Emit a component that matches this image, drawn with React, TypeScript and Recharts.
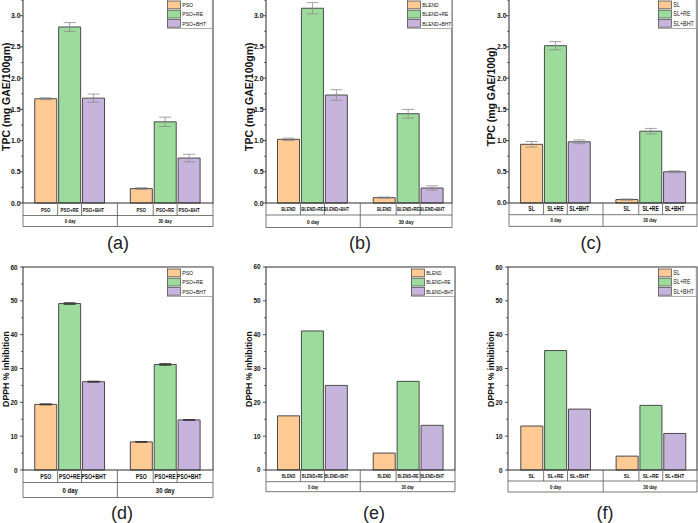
import React from "react";
import { BarChart, Bar, Cell, XAxis, YAxis, ErrorBar, Legend } from "recharts";

// ---- data ----
const DAYS = ["0 day", "30 day"];
const COLORS = ["#FFCA94", "#9DDB9D", "#C7B4DC"];

const psoTreat = ["PSO", "PSO+RE", "PSO+BHT"];
const blendTreat = ["BLEND", "BLEND+RE", "BLEND+BHT"];
const slTreat = ["SL", "SL+RE", "SL+BHT"];

// TPC (mg GAE/100g)
const tpcPso0 = [1.67, 2.82, 1.68];
const tpcPso30 = [0.23, 1.3, 0.72];
const tpcPsoErr0 = [0.015, 0.07, 0.065];
const tpcPsoErr30 = [0.015, 0.075, 0.06];

const tpcBlend0 = [1.02, 3.12, 1.73];
const tpcBlend30 = [0.085, 1.43, 0.24];
const tpcBlendErr0 = [0.02, 0.09, 0.085];
const tpcBlendErr30 = [0.01, 0.07, 0.035];

const tpcSl0 = [0.94, 2.52, 0.98];
const tpcSl30 = [0.055, 1.15, 0.5];
const tpcSlErr0 = [0.045, 0.065, 0.03];
const tpcSlErr30 = [0.01, 0.045, 0.015];

// DPPH % inhibition
const dpphPso0 = [19.4, 49.2, 26.1];
const dpphPso30 = [8.3, 31.2, 14.8];
const dpphPsoErr0 = [0.15, 0.25, 0.15];
const dpphPsoErr30 = [0.1, 0.25, 0.1];

const dpphBlend0 = [16.0, 41.1, 25.0];
const dpphBlend30 = [5.0, 26.2, 13.2];

const dpphSl0 = [13.0, 35.3, 18.0];
const dpphSl30 = [4.1, 19.1, 10.8];

const tpcMajor = [0, 0.5, 1, 1.5, 2, 2.5, 3];
const tpcMinor = [0.25, 0.75, 1.25, 1.75, 2.25, 2.75, 3.25];
const dpphMajor = [0, 10, 20, 30, 40, 50, 60];
const dpphMinor = [5, 15, 25, 35, 45, 55];

// ---- helpers ----
type Row = { id: string; treat: number; value: number | null; err: number | null };

function buildRows(treat: string[], v0: number[], v30: number[], e0?: number[], e30?: number[]): Row[] {
  const rows: Row[] = [];
  treat.forEach((t, i) => rows.push({ id: `0|${t}`, treat: i, value: v0[i], err: e0 ? e0[i] : null }));
  rows.push({ id: "gap", treat: -1, value: null, err: null });
  treat.forEach((t, i) => rows.push({ id: `30|${t}`, treat: i, value: v30[i], err: e30 ? e30[i] : null }));
  return rows;
}

const Y_W = 23;
const M_TOP = 6;
const INK = "#2b2b2b";
const LINE = "#555";
const SANS = "'Liberation Sans', Arial, sans-serif";

// condensed text (no narrow font installed, so squeeze horizontally)
function Narrow({ x, y, size, anchor = "middle", bold = true, sx = 0.8, children }: any) {
  return (
    <text transform={`translate(${x} ${y}) scale(${sx} 1)`} x={0} y={0} textAnchor={anchor}
      dominantBaseline="central" fontFamily={SANS} fontWeight={bold ? "bold" : "normal"} fontSize={size} fill="#111">
      {children}
    </text>
  );
}

const top = { plotTop: -2.7, plotBottom: 203.3, yMax: 3.3, major: tpcMajor, minor: tpcMinor,
  fmt: (v: number) => v.toFixed(1), tickGap: 2.5, tickFont: 6.8, labelSize: 10.5, labelY: 97,
  legendTop: -0.9, letterY: 243 };
const bottom = { plotTop: 267, plotBottom: 470, yMax: 60, major: dpphMajor, minor: dpphMinor,
  fmt: (v: number) => String(v), tickGap: 5.5, tickFont: 6.4, labelSize: 8.7, labelY: 369,
  legendTop: 266.7, letterY: 513 };

const panels = [
  { ...top, treat: psoTreat, rows: buildRows(psoTreat, tpcPso0, tpcPso30, tpcPsoErr0, tpcPsoErr30),
    yLabel: "TPC (mg GAE/100gm)", plotL: 23, plotR: 213, padL: 10.75, padR: 12, r1: 12.5, r2: 11,
    catSize: 5.6, groupSize: 5.4, legendSize: 6.2, legendW: 45.7, letter: "(a)", letterX: 118, errColor: "#8a8a8a" },
  { ...top, treat: blendTreat, rows: buildRows(blendTreat, tpcBlend0, tpcBlend30, tpcBlendErr0, tpcBlendErr30),
    yLabel: "TPC (mg GAE/100gm)", plotL: 266, plotR: 452, padL: 10.5, padR: 8, r1: 12, r2: 12.5,
    catSize: 5.2, groupSize: 6, legendSize: 6, legendW: 45.3, letter: "(b)", letterX: 360, errColor: "#8a8a8a" },
  { ...top, treat: slTreat, rows: buildRows(slTreat, tpcSl0, tpcSl30, tpcSlErr0, tpcSlErr30),
    yLabel: "TPC (mg GAE/100g)", plotL: 509, plotR: 697, padL: 10.6, padR: 10.6, r1: 11.7, r2: 11.7,
    catSize: 6.3, groupSize: 5.4, legendSize: 6.6, legendW: 38.7, letter: "(c)", letterX: 591, errColor: "#8a8a8a" },
  { ...bottom, treat: psoTreat, rows: buildRows(psoTreat, dpphPso0, dpphPso30, dpphPsoErr0, dpphPsoErr30),
    yLabel: "DPPH % inhibition", plotL: 23, plotR: 213, padL: 10.75, padR: 12, r1: 12.5, r2: 15,
    catSize: 6.5, groupSize: 7.5, legendSize: 6.2, legendW: 46, letter: "(d)", letterX: 122, errColor: "#222" },
  { ...bottom, treat: blendTreat, rows: buildRows(blendTreat, dpphBlend0, dpphBlend30),
    yLabel: "DPPH % inhibition", plotL: 266, plotR: 455, padL: 10.5, padR: 11, r1: 11.7, r2: 10,
    catSize: 4.9, groupSize: 5, legendSize: 5.6, legendW: 44, letter: "(e)", letterX: 374, errColor: "#222" },
  { ...bottom, treat: slTreat, rows: buildRows(slTreat, dpphSl0, dpphSl30),
    yLabel: "DPPH % inhibition", plotL: 508, plotR: 697, padL: 11.8, padR: 10.4, r1: 11, r2: 11,
    catSize: 6.2, groupSize: 5.6, legendSize: 6.6, legendW: 38.7, letter: "(f)", letterX: 605, errColor: "#222" },
];

type Cfg = (typeof panels)[number];

function CatTick(props: any) {
  const { x, y, index, cfg, plotW, plotH } = props as { x: number; y: number; index: number; cfg: Cfg; plotW: number; plotH: number };
  const w = (plotW - cfg.padL - cfg.padR) / 7;
  const L = x - (index + 0.5) * w - cfg.padL;
  const R = L + plotW;
  const mid = L + cfg.padL + 3.5 * w;
  const h = cfg.r1 + cfg.r2;
  const row = cfg.rows[index];
  return (
    <g>
      {index === 0 && (
        <g>
          <rect x={L} y={y - plotH} width={plotW} height={plotH} fill="none" stroke={INK} strokeWidth={1} />
          <line x1={L} x2={R} y1={y + cfg.r1} y2={y + cfg.r1} stroke={LINE} strokeWidth={0.8} />
          <line x1={L} x2={R} y1={y + h} y2={y + h} stroke={LINE} strokeWidth={0.8} />
          <line x1={L} x2={L} y1={y} y2={y + h} stroke={LINE} strokeWidth={0.8} />
          <line x1={R} x2={R} y1={y} y2={y + h} stroke={LINE} strokeWidth={0.8} />
        </g>
      )}
      {index === 3 && <line x1={mid} x2={mid} y1={y} y2={y + h} stroke={LINE} strokeWidth={0.8} />}
      {[0, 1, 4, 5].includes(index) && (
        <line x1={x + w / 2} x2={x + w / 2} y1={y} y2={y + cfg.r1} stroke={LINE} strokeWidth={0.8} />
      )}
      {row && row.treat >= 0 && (
        <Narrow x={x} y={y + cfg.r1 / 2 + 0.3} size={cfg.catSize}>
          {cfg.treat[row.treat]}
        </Narrow>
      )}
      {(index === 1 || index === 5) && (
        <Narrow x={index === 1 ? (L + mid) / 2 : (mid + R) / 2} y={y + cfg.r1 + cfg.r2 / 2 + 0.3} size={cfg.groupSize}>
          {DAYS[index === 1 ? 0 : 1]}
        </Narrow>
      )}
    </g>
  );
}

function ValTick(props: any) {
  const { x, y, payload, cfg } = props as { x: number; y: number; payload: { value: number }; cfg: Cfg };
  const major = cfg.major.includes(payload.value);
  return (
    <g>
      <line x1={x} x2={x - (major ? 3 : 1.8)} y1={y} y2={y} stroke={INK} strokeWidth={0.8} />
      {major && (
        <text x={x - cfg.tickGap} y={y} textAnchor="end" dominantBaseline="central"
          fontFamily={SANS} fontWeight="bold" fontSize={cfg.tickFont} fill="#111">
          {cfg.fmt(payload.value)}
        </text>
      )}
    </g>
  );
}

function LegendBox({ cfg }: { cfg: Cfg }) {
  return (
    <svg width={cfg.legendW} height={30} style={{ display: "block" }}>
      <rect x={0.5} y={0.5} width={cfg.legendW - 1} height={29} fill="#fff" stroke="#9a9a9a" strokeWidth={0.8} />
      {cfg.treat.map((t, k) => (
        <g key={t}>
          <rect x={0.5} y={2 + 9.2 * k} width={13} height={7.8} fill={COLORS[k]} stroke="#555" strokeWidth={0.8} />
          <Narrow x={15.3} y={2 + 9.2 * k + 4.1} size={cfg.legendSize} anchor="start" bold={false} sx={0.82}>
            {t}
          </Narrow>
        </g>
      ))}
    </svg>
  );
}

function Panel({ cfg }: { cfg: Cfg }) {
  const plotW = cfg.plotR - cfg.plotL;
  const plotH = cfg.plotBottom - cfg.plotTop;
  const xh = cfg.r1 + cfg.r2 + 3;
  const wrapLeft = cfg.plotL - Y_W;
  const wrapTop = cfg.plotTop - M_TOP;
  const width = Y_W + plotW + 2;
  const height = M_TOP + plotH + xh;
  const lx = Y_W - 17;
  const ly = cfg.labelY - wrapTop;
  const hasErr = cfg.rows.some((r) => r.err != null);
  return (
    <div style={{ position: "absolute", left: wrapLeft, top: wrapTop }}>
      <BarChart width={width} height={height} data={cfg.rows} margin={{ top: M_TOP, right: 2, bottom: 0, left: 0 }}>
        <XAxis dataKey="id" type="category" interval={0} height={xh} axisLine={false} tickLine={false}
          tickSize={0} tickMargin={0} padding={{ left: cfg.padL, right: cfg.padR }}
          tick={(p: any) => <CatTick {...p} cfg={cfg} plotW={plotW} plotH={plotH} />} />
        <YAxis type="number" domain={[0, cfg.yMax]} ticks={[...cfg.major, ...cfg.minor].sort((a, b) => a - b)}
          interval={0} width={Y_W} axisLine={false} tickLine={false} tickSize={0} tickMargin={0}
          tick={(p: any) => <ValTick {...p} cfg={cfg} />}
          label={{
            content: () => (
              <text x={lx} y={ly} transform={`rotate(-90 ${lx} ${ly})`} textAnchor="middle"
                dominantBaseline="central" fontFamily={SANS} fontWeight="bold" fontSize={cfg.labelSize} fill="#111">
                {cfg.yLabel}
              </text>
            ),
          }} />
        <Legend layout="vertical" align="center" verticalAlign="middle"
          wrapperStyle={{ left: cfg.plotR - cfg.legendW - wrapLeft, top: cfg.legendTop - wrapTop,
            width: cfg.legendW, height: 30, margin: 0, padding: 0, lineHeight: 0 }}
          content={() => <LegendBox cfg={cfg} />} />
        <Bar dataKey="value" barSize={22} stroke="#4a4a4a" strokeWidth={1} isAnimationActive={false}>
          {cfg.rows.map((r, i) => (
            <Cell key={i} fill={r.treat >= 0 ? COLORS[r.treat] : "none"} />
          ))}
          {hasErr && <ErrorBar dataKey="err" width={6} stroke={cfg.errColor} strokeWidth={0.8} isAnimationActive={false} />}
        </Bar>
      </BarChart>
    </div>
  );
}

export default function App() {
  return (
    <div style={{ position: "absolute", left: 0, top: 0, width: 698, height: 523, overflow: "hidden", background: "#fff" }}>
      {panels.map((cfg) => (
        <React.Fragment key={cfg.letter}>
          <Panel cfg={cfg} />
          <div style={{ position: "absolute", left: cfg.letterX, top: cfg.letterY, transform: "translate(-50%, -50%)",
            fontFamily: SANS, fontSize: 18, color: "#222", lineHeight: 1, whiteSpace: "nowrap" }}>
            {cfg.letter}
          </div>
        </React.Fragment>
      ))}
    </div>
  );
}
